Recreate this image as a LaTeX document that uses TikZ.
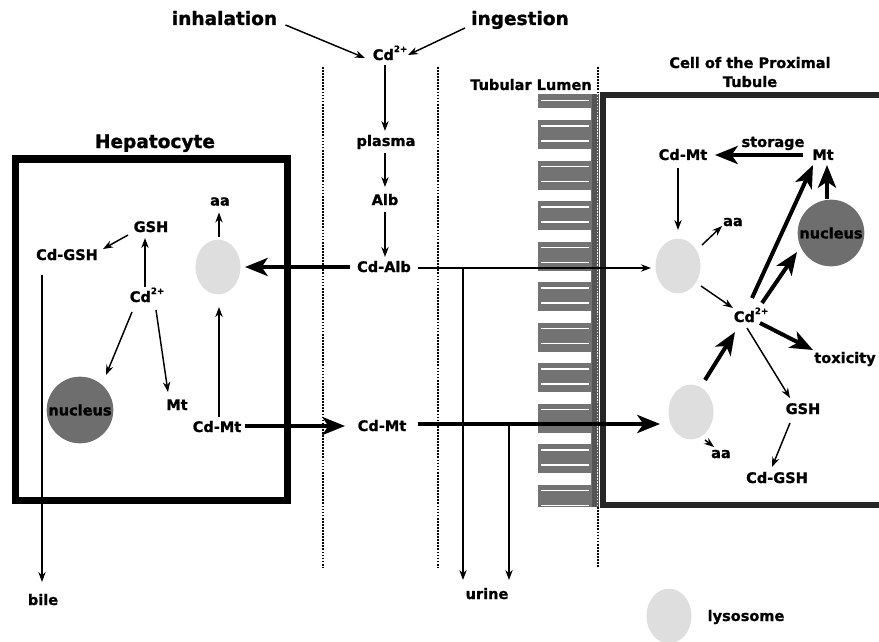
\documentclass[tikz,border=0pt]{standalone}
\usepackage{fontspec}
\setmainfont{DejaVu Sans}[BoldFeatures={FakeBold=1.2}]
\usetikzlibrary{arrows.meta,calc,shapes.geometric}
\definecolor{nucgray}{HTML}{6E6E6E}
\definecolor{lysgray}{HTML}{DEDEDE}
\definecolor{combgray}{HTML}{737373}
\definecolor{stripgray}{HTML}{555555}
\definecolor{cellline}{HTML}{262626}
\newcommand{\cdion}{Cd\raisebox{0.55em}{\fontsize{6.5}{7}\selectfont 2+}}
\begin{document}
\begin{tikzpicture}[x=0.75pt,y=-0.75pt,
  lbl/.style={font=\fontsize{10.9}{13}\selectfont\bfseries, inner sep=1pt, text height=0.95em, text depth=0.2em},
  big/.style={font=\fontsize{13.9}{16}\selectfont\bfseries, inner sep=1pt, text height=0.95em, text depth=0.2em},
  thinarr/.style={line width=1.1pt,-{Stealth[length=7.5pt,width=5.5pt]}},
  thickarr/.style={line width=3pt,-{Stealth[length=17pt,width=13.5pt,inset=4.5pt]}},
  lyso/.style={ellipse, fill=lysgray, draw=none, minimum width=33.8pt, minimum height=41pt, inner sep=0pt},
  nuc/.style={circle, fill=nucgray, draw=none, minimum size=50pt, inner sep=0pt, font=\fontsize{10.9}{13}\selectfont\bfseries},
  dotline/.style={line width=1.8pt, dash pattern=on 1.3pt off 1pt},
  lightdot/.style={line width=1.3pt, white!85!gray, dash pattern=on 1.1pt off 1.1pt}
]
\useasboundingbox (0,0) rectangle (879,642);

% ---- brush border (tubular lumen) ----
\fill[combgray] (538,94) rectangle (592,507);
\fill[stripgray] (592,94) rectangle (599,507);
\fill[white] (541,99.8) rectangle (589,101.2);
\foreach \k in {0,...,9}{
  \pgfmathsetmacro\yy{120+40.5*\k}
  \fill[white] (537,{\yy-11.5}) rectangle (591,\yy);
  \fill[white] (541,{\yy+5.3}) rectangle (589,{\yy+6.7});
  \fill[white] (541,{\yy+20.3}) rectangle (589,{\yy+21.7});
}

% ---- dotted membranes ----
\draw[dotline] (323,67) -- (323,567);
\draw[dotline] (438,67) -- (438,567);
\draw[dotline] (598,67) -- (598,94);
\draw[lightdot] (597.5,94) -- (597.5,507);
\draw[dotline] (598,507) -- (598,567);

% ---- cell boxes ----
\draw[line width=5.25pt] (15,159) rectangle (287,500);
\draw[cellline, line width=4.5pt] (879,95) -- (603,95) -- (603,505) -- (879,505);

% ---- nodes ----
\node[big] (inhal) at (224.5,20) {inhalation};
\node[big] (ingest) at (520,20) {ingestion};
\node[lbl] (cd0) at (390,55) {\cdion};
\node[lbl] (plasma) at (386,141) {plasma};
\node[lbl] (alb) at (385,200) {Alb};
\node[lbl] (cdalb) at (384,267) {Cd-Alb};
\node[lbl] (cdmtM) at (382,426) {Cd-Mt};

\node[big] (hep) at (155,143) {Hepatocyte};
\node[lyso] (lysH) at (218,267) {};
\node[lbl] (aaH) at (220,200.5) {aa};
\node[lbl] (gshH) at (151,227) {GSH};
\node[lbl] (cdgshH) at (67,255) {Cd-GSH};
\node[lbl] (cdH) at (147,297) {\cdion};
\node[lbl] (mtH) at (177,405) {Mt};
\node[lbl] (cdmtH) at (217,427) {Cd-Mt};
\node[nuc] (nucH) at (80,410) {nucleus};
\node[lbl] (bile) at (43,600) {bile};
\node[lbl] (urine) at (487,594) {urine};

\node[lbl] (tub) at (531,85) {Tubular Lumen};
\node[lbl] (cell1) at (750,63) {Cell of the Proximal};
\node[lbl] (cell2) at (750,82) {Tubule};
\node[lbl] (cdmtR) at (683,155) {Cd-Mt};
\node[lbl] (stor) at (773,142) {storage};
\node[lbl] (mtR) at (823,155) {Mt};
\node[lyso] (lysR1) at (678,266) {};
\node[lbl] (aaR1) at (733,221) {aa};
\node[nuc] (nucR) at (831,233) {nucleus};
\node[lbl] (cdR) at (751,317) {\cdion};
\node[lbl] (tox) at (845,358) {toxicity};
\node[lbl] (gshR) at (803,409) {GSH};
\node[lbl] (cdgshR) at (777,478) {Cd-GSH};
\node[lyso] (lysR2) at (691,412) {};
\node[lbl] (aaR2) at (721,453) {aa};
\node[lyso] (lysL) at (669,616) {};
\node[lbl] (lysLbl) at (746,616) {lysosome};

\coordinate (u1a) at (463,268);
\coordinate (u1b) at (463,580);
\coordinate (u2a) at (509,424);
\coordinate (u2b) at (509,580);

% ---- central column ----
\draw[thinarr] ($(inhal)+(61,5)$) -- ($(cd0)+(-25,3)$);
\draw[thinarr] ($(ingest)+(-55,8)$) -- ($(cd0)+(18,0)$);
\draw[thinarr] ($(cd0)+(-5,10)$) -- ($(plasma)+(-1,-10)$);
\draw[thinarr] ($(plasma)+(-1,12)$) -- ($(alb)+(0,-13)$);
\draw[thinarr] ($(alb)+(0,12)$) -- ($(cdalb)+(1,-10)$);
\draw[thickarr] ($(cdalb)+(-34,0)$) -- ($(lysH)+(27,0)$);
\draw[thinarr] ($(cdalb)+(34,1)$) -- ($(lysR1)+(-27,2)$);
\draw[thickarr] ($(cdmtH)+(28,-1)$) -- ($(cdmtM)+(-37,0)$);
\draw[thickarr] ($(cdmtM)+(36,-2)$) -- ($(lysR2)+(-31,12)$);
\draw[thinarr] (u1a) -- (u1b);
\draw[thinarr] (u2a) -- (u2b);

% ---- hepatocyte ----
\draw[thinarr] ($(lysH)+(1,-30)$) -- ($(aaH)+(-1,12)$);
\draw[thinarr] ($(gshH)+(-23,8)$) -- ($(cdgshH)+(36,-6)$);
\draw[thinarr] ($(cdH)+(-2,-10)$) -- ($(gshH)+(-6,11)$);
\draw[thinarr] ($(cdH)+(-15,15)$) -- ($(nucH)+(26,-35)$);
\draw[thinarr] ($(cdH)+(9,13)$) -- ($(mtH)+(-9,-13)$);
\draw[thinarr] ($(cdmtH)+(2,-10)$) -- ($(lysH)+(1,40)$);
\draw[thinarr] ($(cdgshH)+(-25,20)$) -- ($(bile)+(-1,-18)$);

% ---- proximal tubule cell ----
\draw[thickarr] ($(mtR)+(-20,0)$) -- ($(cdmtR)+(32,0)$);
\draw[thinarr] ($(cdmtR)+(-5,13)$) -- ($(lysR1)+(0,-36)$);
\draw[thinarr] ($(lysR1)+(24,-21)$) -- ($(aaR1)+(-11,5)$);
\draw[thinarr] ($(lysR1)+(23,20)$) -- ($(cdR)+(-18,-9)$);
\draw[thickarr] ($(cdR)+(1,-19)$) -- ($(mtR)+(-10,10)$);
\draw[thickarr] ($(cdR)+(11,-14)$) -- ($(nucR)+(-34,19)$);
\draw[thickarr] ($(nucR.north)+(-4,0)$) -- ($(mtR)+(4,10)$);
\draw[thickarr] ($(cdR)+(9,6)$) -- ($(tox)+(-32,-8)$);
\draw[thinarr] ($(cdR)+(-4,11)$) -- ($(gshR)+(-13,-11)$);
\draw[thinarr] ($(gshR)+(-13,14)$) -- ($(cdgshR)+(-5,-11)$);
\draw[thickarr] ($(lysR2)+(14,-32)$) -- ($(cdR)+(-16,15)$);
\draw[thinarr] ($(lysR2)+(14,28)$) -- ($(aaR2)+(-7,-6)$);
\end{tikzpicture}
\end{document}
